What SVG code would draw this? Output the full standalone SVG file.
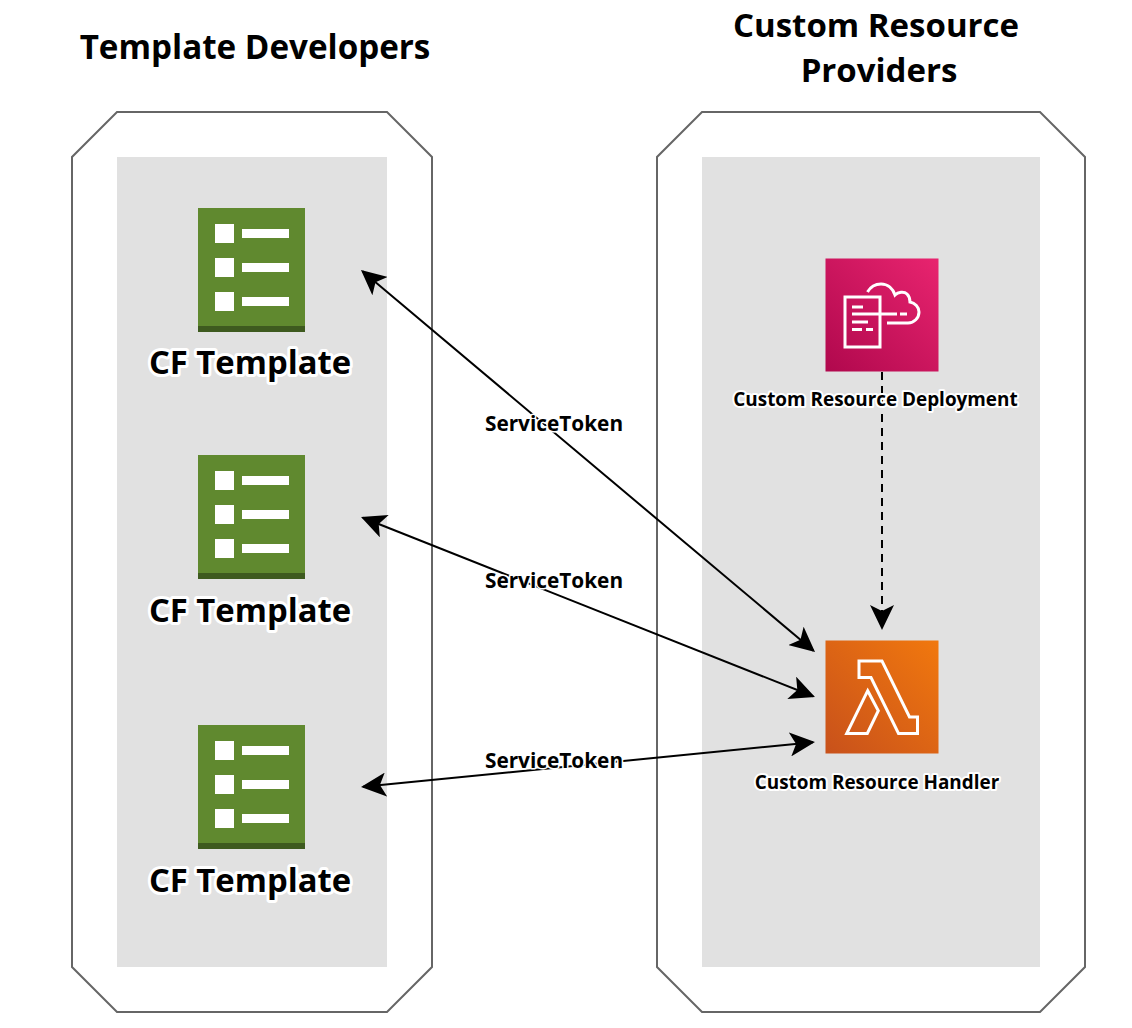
<svg xmlns="http://www.w3.org/2000/svg" xmlns:xlink="http://www.w3.org/1999/xlink" width="1132" height="1028" viewBox="0 0 1132 1028">
<style>
text{font-family:"Open Sans","Noto Sans","Liberation Sans",sans-serif;font-weight:700;text-anchor:middle;fill:#000}
.halo{paint-order:stroke;stroke:#fff;stroke-linejoin:round}
.oct{fill:#fff;stroke:#666;stroke-width:2}
.pane{fill:#e1e1e1}
.conn{fill:none;stroke:#000;stroke-width:2}
.ic{fill:none;stroke:#fff;stroke-width:3}
.t1{font-size:32.8px;stroke-width:6px}
.t2{font-size:18.900px;stroke-width:4px}
.t3{font-size:20.800px;stroke-width:3px}
.h{font-size:33px}
</style>
<defs>
<marker id="a" viewBox="0 0 25 24" refX="23" refY="12" markerWidth="25" markerHeight="24" markerUnits="userSpaceOnUse" orient="auto-start-reverse"><path d="M25 12 L0 0 L6 12 L0 24Z" fill="#000"/></marker>
<linearGradient id="pink" x1="0" y1="1" x2="1" y2="0"><stop offset="0" stop-color="#b0084d"/><stop offset="1" stop-color="#e8246f"/></linearGradient>
<linearGradient id="orange" x1="0" y1="1" x2="1" y2="0"><stop offset="0" stop-color="#c8511b"/><stop offset="1" stop-color="#f1780e"/></linearGradient>
<g id="cf"><rect x="0" y="0" width="107" height="124" fill="#60892f"/><rect x="0" y="118" width="107" height="6" fill="#3e5a1f"/><g fill="#fff"><rect x="17" y="16" width="19" height="19"/><rect x="44" y="21" width="47" height="9"/><rect x="17" y="50" width="19" height="19"/><rect x="44" y="55" width="47" height="9"/><rect x="17" y="84" width="19" height="19"/><rect x="44" y="89" width="47" height="9"/></g></g>
</defs>
<g id="group-developers"><path class="oct" d="M117 112H387L432 157V967L387 1012H117L72 967V157Z"/><rect class="pane" x="117" y="157" width="270" height="810"/></g>
<g id="group-providers"><path class="oct" d="M702 112H1040L1085 157V967L1040 1012H702L657 967V157Z"/><rect class="pane" x="702" y="157" width="338" height="810"/></g>
<text class="h" style="font-size:33.200px" x="255" y="59">Template Developers</text>
<text class="h" x="876" y="37">Custom Resource</text>
<text class="h" x="879" y="82">Providers</text>
<g id="connectors">
<path class="conn" marker-start="url(#a)" marker-end="url(#a)" d="M362.500 271.300L813.500 650.700"/>
<path class="conn" marker-start="url(#a)" marker-end="url(#a)" d="M362.900 517.700L813.100 696.300"/>
<path class="conn" marker-start="url(#a)" marker-end="url(#a)" d="M363 786.800L813 742.200"/>
<path class="conn" stroke-dasharray="8 6" marker-end="url(#a)" d="M882 372V628"/>
</g>
<g id="cf1"><use href="#cf" x="198" y="208"/><text class="halo t1" x="250" y="374">CF Template</text></g>
<g id="cf2"><use href="#cf" x="198" y="455"/><text class="halo t1" x="250" y="622">CF Template</text></g>
<g id="cf3"><use href="#cf" x="198" y="725"/><text class="halo t1" x="250" y="892">CF Template</text></g>
<g id="deployment"><rect x="825.500" y="258.500" width="113" height="113" fill="url(#pink)"/>
<g class="ic"><path d="M845 297H880V347H845Z"/><path d="M852 307H863M852 314H897M900 314H907M852 322H868M852 329.500H862M866 329.500H873"/><path d="M867.500 292C871 286 876 284 881 284C888 284 893 289 895 295C898 292 904 291 907 294C909 296 910 299 910 302C915 303 919 307 919 312C919 318 914 323 908 323H887"/></g>
<text class="halo t2" x="875.500" y="406">Custom Resource Deployment</text></g>
<g id="handler"><rect x="825.500" y="640.500" width="113" height="113" fill="url(#orange)"/>
<path class="ic" d="M859 661H882L909.500 717H917.500V733.500H898.500L871 677.500H859Z"/><path class="ic" d="M867.700 690.700L878.300 710.700L867.300 733.500H846.700Z"/>
<text class="halo t2" x="877" y="789">Custom Resource Handler</text></g>
<g id="labels">
<text class="halo t3" x="554" y="431">ServiceToken</text>
<text class="halo t3" x="554" y="588">ServiceToken</text>
<text class="halo t3" x="554" y="768">ServiceToken</text>
</g>
</svg>
